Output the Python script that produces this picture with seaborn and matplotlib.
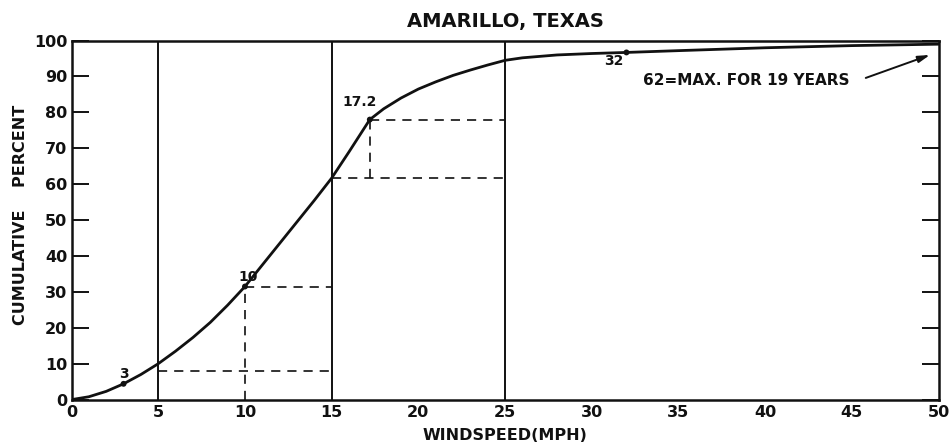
import matplotlib
matplotlib.use("Agg")
import matplotlib.pyplot as plt
import seaborn as sns
import pandas as pd

# cumulative percent curve (windspeed in mph)
wind_mph = [0, 1, 2, 3, 4, 5, 6, 7, 8, 9, 10, 11, 12, 13, 14, 15, 16, 17, 17.2,
            18, 19, 20, 21, 22, 23, 24, 25, 26, 28, 30, 32, 35, 40, 45, 50]
cum_pct = [0, 0.8, 2.3, 4.4, 7, 10, 13.5, 17.3, 21.5, 26.3, 31.5, 37.5, 43.5, 49.5, 55.5, 61.7, 69, 76.5, 78,
           81, 84, 86.5, 88.5, 90.3, 91.8, 93.2, 94.5, 95.2, 96, 96.4, 96.7, 97.2, 98, 98.6, 99]

# marked points on the curve
mark_x = [3, 10, 17.2, 32]
mark_y = [4.4, 31.5, 78, 96.7]
mark_labels = ["3", "10", "17.2", "32"]
mark_offsets = [(0, 7), (2, 7), (-7, 13), (-9, -6)]

# solid reference lines
ref_lines = [5, 15, 25]

# dashed guide segments
guide_seg = [0, 0, 1, 1, 2, 2, 3, 3, 4, 4, 5, 5]
guide_x = [5, 15, 10, 10, 10, 15, 15, 25, 17.2, 17.2, 17.2, 25]
guide_y = [8, 8, 0, 31.5, 31.5, 31.5, 61.7, 61.7, 61.7, 78, 78, 78]

x_ticks = list(range(0, 55, 5))
y_ticks = list(range(0, 110, 10))
edge_ticks = [10, 20, 30, 35, 40, 45]

ink = "#111111"

sns.set_style("white")
plt.rcParams["font.family"] = ["DejaVu Sans"]
plt.rcParams["font.weight"] = "bold"
plt.rcParams["text.color"] = ink
plt.rcParams["axes.labelcolor"] = ink
plt.rcParams["xtick.color"] = ink
plt.rcParams["ytick.color"] = ink

fig, ax = plt.subplots(figsize=(9.5, 4.46), dpi=100)
fig.subplots_adjust(left=0.0753, right=0.988, top=0.909, bottom=0.104)

curve = pd.DataFrame({"x": wind_mph, "y": cum_pct})
sns.lineplot(data=curve, x="x", y="y", color=ink, linewidth=2, sort=False, ax=ax)

guides = pd.DataFrame({"x": guide_x, "y": guide_y, "seg": guide_seg})
sns.lineplot(data=guides, x="x", y="y", units="seg", estimator=None, sort=False,
             color=ink, linewidth=1.2, linestyle=(0, (5.5, 4.2)), ax=ax)

for xv in ref_lines:
    ax.axvline(xv, color=ink, linewidth=1.4)

marks = pd.DataFrame({"x": mark_x, "y": mark_y})
sns.scatterplot(data=marks, x="x", y="y", color=ink, s=18, edgecolor="none", ax=ax, zorder=5)
for xv, yv, lab, off in zip(mark_x, mark_y, mark_labels, mark_offsets):
    ax.annotate(lab, (xv, yv), xytext=off, textcoords="offset points",
                ha="center", va="center", fontsize=10)

ax.annotate("62=MAX. FOR 19 YEARS", (38.9, 89), ha="center", va="center", fontsize=11)
ax.annotate("", xy=(49.5, 96), xytext=(45.8, 89.6),
            arrowprops=dict(arrowstyle="-|>,head_length=0.7,head_width=0.2",
                            color=ink, lw=1.4, shrinkA=0, shrinkB=0))

ax.set_xlim(0, 50)
ax.set_ylim(0, 100)
ax.set_xticks(x_ticks)
ax.set_yticks(y_ticks)
ax.set_xticks(edge_ticks, minor=True)
ax.tick_params(axis="x", which="major", length=0, labelsize=11.5, pad=4)
ax.tick_params(axis="x", which="minor", direction="in", length=12, width=1.4,
               top=True, bottom=True)
ax.tick_params(axis="y", which="major", direction="in", length=12, width=1.4,
               left=True, right=True, labelsize=11.5, pad=3)

for sp in ax.spines.values():
    sp.set_visible(True)
    sp.set_linewidth(1.8)
    sp.set_color(ink)

ax.set_xlabel("WINDSPEED(MPH)", fontsize=11.5, fontweight="bold")
ax.xaxis.set_label_coords(0.5, -0.1)
ax.xaxis.label.set_va("center")
ax.set_ylabel("CUMULATIVE    PERCENT", fontsize=11.5, fontweight="bold")
ax.yaxis.set_label_coords(-0.059, 0.514)
ax.yaxis.label.set_va("center")
ax.set_title("AMARILLO, TEXAS", fontsize=14, fontweight="bold", y=1.052, va="center", pad=0)

fig.savefig("out.png", dpi=100)
